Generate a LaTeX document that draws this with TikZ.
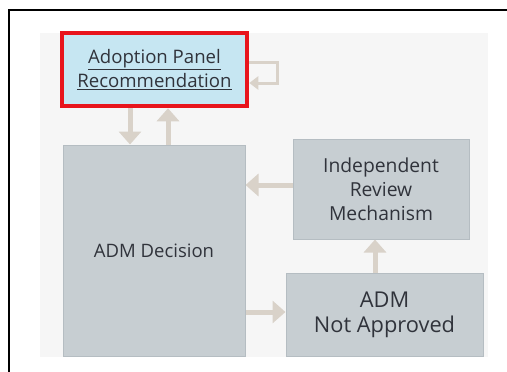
\documentclass[tikz,border=0pt]{standalone}
\usepackage{fontspec}
\setmainfont{Open Sans}
\usetikzlibrary{arrows.meta}
\definecolor{panelbg}{HTML}{F6F6F6}
\definecolor{boxfill}{HTML}{C7CED2}
\definecolor{boxline}{HTML}{B5BDC2}
\definecolor{adoptfill}{HTML}{C6E6F2}
\definecolor{alertred}{HTML}{E8141C}
\definecolor{flow}{HTML}{D9D2C9}
\definecolor{label}{HTML}{30333B}
\tikzset{
  stagebox/.style={draw=boxline, line width=1pt, fill=boxfill, text=label,
    align=center, inner sep=0pt},
  flowarrow/.style={draw=flow, line width=5pt,
    -{Triangle[width=22pt,length=13pt]}},
  loopline/.style={draw=flow, line width=3pt,
    -{Triangle[width=13pt,length=9pt]}},
}
\begin{document}
\begin{tikzpicture}[x=1pt, y=-1pt]
  \useasboundingbox (0,0) rectangle (507,372);
  % frame edges and grey panel
  \fill[panelbg] (40,33) rectangle (488,357);
  \draw[line width=2.2pt, black] (507,10) -- (9,10) -- (9,372);

  % stages
  \node[draw=alertred, line width=4.5pt, fill=adoptfill, text=label,
        align=center, inner sep=0pt, minimum width=185pt, minimum height=73pt,
        font=\fontsize{18.6}{24}\selectfont]
        (adopt) at (154.5,69.5) {\underline{Adoption Panel}\\\underline{Recommendation}};
  \node[stagebox, minimum width=182pt, minimum height=211pt,
        font=\fontsize{18.5}{24}\selectfont]
        (dec) at (154,250.5) {ADM Decision};
  \node[stagebox, minimum width=176pt, minimum height=100pt,
        font=\fontsize{19.3}{24}\selectfont]
        (irm) at (381,189) {Independent\\Review\\Mechanism};
  \node[stagebox, minimum width=197pt, minimum height=83pt,
        font=\fontsize{21.8}{25}\selectfont]
        (nap) at (384.5,314.5) {ADM\\Not Approved};

  % connector columns and rows
  \coordinate (downcol) at (130,0);
  \coordinate (upcol) at (168,0);
  \coordinate (backrow) at (0,185);
  \coordinate (outrow) at (0,312);
  \coordinate (risecol) at (375,0);
  \coordinate (loopA) at (277,62);
  \coordinate (loopB) at (277,83);

  \draw[flowarrow] (adopt.south -| downcol) -- (dec.north -| downcol);
  \draw[flowarrow] (dec.north -| upcol) -- (adopt.south -| upcol);
  \draw[flowarrow] (irm.west |- backrow) -- (dec.east |- backrow);
  \draw[flowarrow] (dec.east |- outrow) -- (nap.west |- outrow);
  \draw[flowarrow] (nap.north -| risecol) -- (irm.south -| risecol);
  \draw[loopline] (adopt.east |- loopA) -- (loopA) -- (loopB) -- (adopt.east |- loopB);
\end{tikzpicture}
\end{document}
